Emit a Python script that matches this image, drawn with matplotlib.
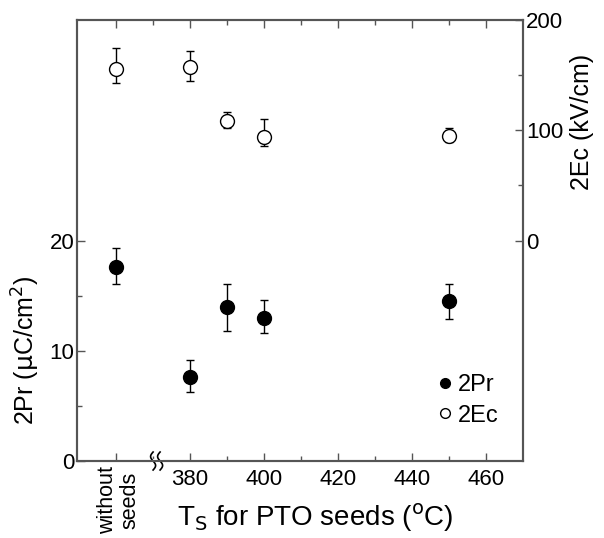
import numpy as np
import matplotlib.pyplot as plt
from matplotlib.lines import Line2D
from matplotlib.ticker import FixedLocator
import matplotlib.transforms as mtransforms

plt.rcParams['font.family'] = ['Liberation Sans', 'DejaVu Sans']

# data (x=360 stands for "without seeds")
ts = [360, 380, 390, 400, 450]
pr = [17.6, 7.6, 14.0, 13.0, 14.5]
pr_hi = [19.3, 9.2, 16.1, 14.6, 16.1]
pr_lo = [16.1, 6.3, 11.8, 11.6, 12.9]
ec = [156, 157, 108, 94, 95]
ec_hi = [175, 172, 117, 110, 102]
ec_lo = [143, 145, 102, 86, 89]

x_ticks = [360, 380, 400, 420, 440, 460]
x_labels = ['', '380', '400', '420', '440', '460']

spine_col = '#555555'

fig = plt.figure(figsize=(6.04, 5.38), dpi=100)
ax = fig.add_axes([0.1275, 0.1431, 0.7385, 0.8197])
ax2 = ax.twinx()

pr_err = [[p - l for p, l in zip(pr, pr_lo)], [h - p for p, h in zip(pr, pr_hi)]]
ec_err = [[e - l for e, l in zip(ec, ec_lo)], [h - e for e, h in zip(ec, ec_hi)]]

ax.errorbar(ts, pr, yerr=pr_err, fmt='o', color='black', ms=10, capsize=3,
            elinewidth=1, capthick=1, zorder=3)
ax2.errorbar(ts, ec, yerr=ec_err, fmt='o', mfc='white', mec='black', ecolor='black',
             ms=10, mew=1, capsize=3, elinewidth=1, capthick=1, zorder=3)

ax.set_xlim(349.5, 470)
ax.set_ylim(0, 40)
ax2.set_ylim(-200, 200)

ax.xaxis.set_major_locator(FixedLocator(x_ticks))
ax.xaxis.set_minor_locator(FixedLocator([370, 390, 410, 430, 450]))
ax.set_xticklabels(x_labels)
ax.yaxis.set_major_locator(FixedLocator([0, 10, 20]))
ax.yaxis.set_minor_locator(FixedLocator([5, 15]))
ax2.yaxis.set_major_locator(FixedLocator([0, 100, 200]))
ax2.yaxis.set_minor_locator(FixedLocator([50, 150]))

for a in (ax, ax2):
    a.tick_params(which='major', direction='in', length=6, width=1, labelsize=16,
                  color=spine_col)
    a.tick_params(which='minor', direction='in', length=3.5, width=1, color=spine_col)
    for s in a.spines.values():
        s.set_color(spine_col)
        s.set_linewidth(1.5)
ax.tick_params(axis='x', which='both', top=True, pad=6)
ax.tick_params(axis='y', pad=2)
ax2.tick_params(axis='y', pad=2)

# "without seeds" label under the first tick
trans = mtransforms.blended_transform_factory(ax.transData, ax.transAxes)
ax.text(ts[0] + 0.8, -0.012, 'without\nseeds', rotation=90, ha='center', va='top',
        fontsize=15.5, transform=trans, linespacing=1.12)

# axis break marks on the bottom spine (drawn in pixels)
bx, by = trans.transform((371, 0))
pix = mtransforms.IdentityTransform()
ax.plot([bx - 4, bx + 4], [by, by], color='white', lw=3, transform=pix,
        clip_on=False, zorder=5)
t = np.linspace(-1, 1, 40)
for dx in (-3.5, 3.5):
    ax.plot(bx + dx - 2.5 * np.sin(np.pi * t), by + 9 * t, color='black', lw=1.2,
            transform=pix, clip_on=False, zorder=6)

ax.set_xlabel('T$_\\mathrm{S}$ for PTO seeds ($^\\mathrm{o}$C)', fontsize=20)
ax.xaxis.set_label_coords(0.535, -0.092)
ax.set_ylabel('2Pr ($\\mathrm{\\mu}$C/cm$^\\mathrm{2}$)', fontsize=18)
ax.yaxis.set_label_coords(-0.078, 0.25)
ax2.set_ylabel('2Ec (kV/cm)', fontsize=18)
ax2.yaxis.set_label_coords(1.105, 0.77)

handles = [Line2D([], [], marker='o', ls='none', color='black', ms=7),
           Line2D([], [], marker='o', ls='none', mfc='white', mec='black', ms=7)]
ax.legend(handles, ['2Pr', '2Ec'], loc='center left', bbox_to_anchor=(0.75, 0.137),
          frameon=False, fontsize=17, handletextpad=0.05, labelspacing=0.35,
          handlelength=1.0)

fig.savefig('out.png', dpi=100)
